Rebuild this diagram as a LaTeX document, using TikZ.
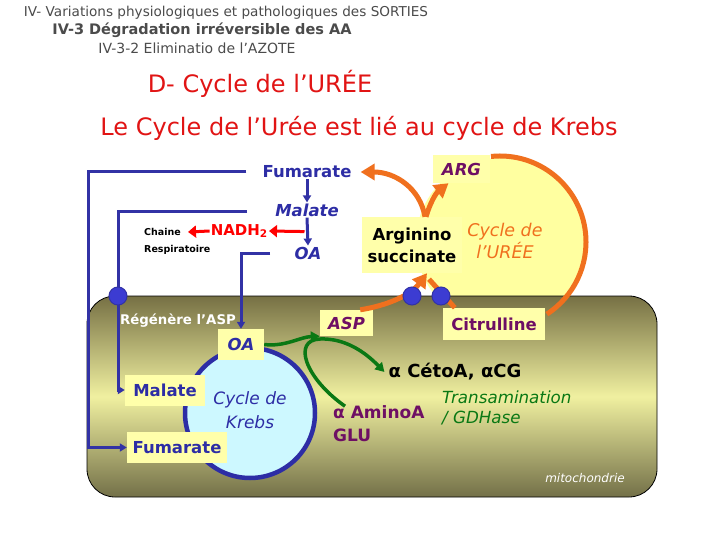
\documentclass[tikz,border=0pt]{standalone}
\usepackage{fontspec}
\setmainfont{DejaVu Sans}
\usetikzlibrary{arrows.meta,calc}
\definecolor{ttlgray}{RGB}{75,75,75}
\definecolor{ttlred}{RGB}{225,20,20}
\definecolor{kblue}{RGB}{45,45,165}
\definecolor{lblue}{RGB}{50,50,165}
\definecolor{purp}{RGB}{110,15,100}
\definecolor{orng}{RGB}{240,112,30}
\definecolor{grn}{RGB}{10,120,20}
\definecolor{boxy}{RGB}{255,255,170}
\definecolor{circy}{RGB}{255,255,160}
\definecolor{cyanf}{RGB}{205,248,255}
\definecolor{mitoT}{RGB}{118,112,68}
\definecolor{mitoM}{RGB}{240,240,160}
\definecolor{mitoB}{RGB}{115,112,72}
\definecolor{trfill}{RGB}{60,60,210}
\begin{document}
\begin{tikzpicture}[x=1pt,y=-1pt,
  every node/.style={inner sep=1pt},
  ybox/.style={fill=boxy, inner sep=0pt},
  bline/.style={draw=lblue, line width=3pt},
  btip/.style={-{Triangle[length=7pt,width=8pt]}},
  oline/.style={draw=orng, line width=5pt},
  otip/.style={-{Triangle[length=14pt,width=16pt]}},
  gline/.style={draw=grn, line width=3.5pt, -{Triangle[length=9pt,width=10pt]}},
  rline/.style={draw=red, line width=3pt, -{Triangle[length=8pt,width=12pt]}},
  transp/.style={circle, fill=trfill, draw=lblue, line width=1pt, minimum size=18pt, inner sep=0pt},
  fbig/.style={font=\bfseries\fontsize{16.5}{20}\selectfont},
  fbigi/.style={font=\bfseries\itshape\fontsize{16.5}{20}\selectfont}]
\useasboundingbox (0,0) rectangle (720,540);
\fill[white] (0,0) rectangle (720,540);

% titles
\node[font=\fontsize{13.6}{15}\selectfont, text=ttlgray] (t1) at (226,13) {IV- Variations physiologiques et pathologiques des SORTIES};
\node[font=\bfseries\fontsize{14.5}{17}\selectfont, text=ttlgray] (t2) at (202,30) {IV-3 Dégradation irréversible des AA};
\node[font=\fontsize{14}{16}\selectfont, text=ttlgray] (t3) at (197,48) {IV-3-2 Eliminatio de l'AZOTE};
\node[font=\fontsize{24}{28}\selectfont, text=ttlred] (t4) at (260,84) {D- Cycle de l'URÉE};
\node[font=\fontsize{24}{28}\selectfont, text=ttlred] (t5) at (359,128) {Le Cycle de l'Urée est lié au cycle de Krebs};

% urea cycle disc
\node[circle, fill=circy, minimum size=168pt, inner sep=0pt] (uc) at (500,242) {};
\node[ybox, minimum width=57pt, minimum height=28pt, text=purp, fbigi] (arg) at (461.5,169) {ARG};
\node[ybox, minimum width=100pt, minimum height=56pt, align=center,
      font=\bfseries\fontsize{16.5}{22}\selectfont] (as) at (412,245) {Arginino\\succinate};
\node[text=orng, align=center, font=\itshape\fontsize{17.5}{22}\selectfont] (ucl) at (505,241) {Cycle de\\l'URÉE};

% mitochondrion
\shadedraw[top color=mitoT, bottom color=mitoB, middle color=mitoM, draw=black, line width=0.8pt,
  rounded corners=28pt] (87,296) rectangle (657,497);

% big orange arc of urea cycle
\draw[oline] (uc.center) ++(-96:86) arc[start angle=-96, end angle=57, radius=86];

% top Krebs intermediates
\node[fbig, text=kblue] (fumT) at (307,172) {Fumarate};
\node[fbigi, text=kblue] (malT) at (307,210) {Malate};
\node[fbigi, text=kblue] (oaT) at (308,253) {OA};
\draw[bline, btip] (fumT.south) -- (malT.north);
\draw[bline, btip] (malT.south) -- (oaT.north);
\coordinate (rm) at ($(malT.south)!0.5!(oaT.north)+(-3,0)$);
\node[text=red, font=\bfseries\fontsize{15}{18}\selectfont, anchor=east] (nadh) at (269,231) {NADH\textsubscript{2}};
\node[anchor=west, font=\bfseries\fontsize{9.5}{11}\selectfont] (chaine) at (143,232) {Chaine};
\node[anchor=west, font=\bfseries\fontsize{9.5}{11}\selectfont] (resp) at (143,250) {Respiratoire};
\draw[rline] (rm) -- (nadh.east);
\draw[rline] (nadh.west) -- ([xshift=6pt]chaine.east);

% orange arrows from argininosuccinate
\draw[oline, otip] ([xshift=13pt]as.north) .. controls (420,188) and (395,172) .. ([xshift=8pt]fumT.east);
\draw[oline, otip] ([xshift=14pt]as.north) .. controls (430,203) and (436,193) .. ([xshift=-13pt]arg.south);

% boxes inside mitochondrion
\node[ybox, minimum width=53pt, minimum height=26pt, text=purp, fbigi] (asp) at (346.5,323) {ASP};
\node[ybox, minimum width=102pt, minimum height=32pt, text=purp, fbig] (cit) at (494,324) {Citrulline};

% orange arrows towards argininosuccinate
\draw[oline] ([xshift=12pt]cit.north west) -- ([xshift=17pt,yshift=-6pt]as.south);
\draw[oline, otip] ([xshift=-13pt]asp.north east) .. controls (385,306) and (410,296) .. ([xshift=15pt]as.south);
\node[transp] (tr2) at (412,296) {};
\node[transp] (tr3) at (441,296) {};

% Krebs cycle
\node[circle, fill=cyanf, draw=kblue, line width=4.5pt, minimum size=130pt, inner sep=0pt] (kc) at (250,413) {};
\node[text=kblue, align=center, font=\itshape\fontsize{17}{24}\selectfont] (kcl) at (250,410) {Cycle de\\Krebs};
\node[ybox, minimum width=46pt, minimum height=31pt, text=kblue, fbigi] (oaB) at (241,344.5) {OA};
\node[ybox, minimum width=80pt, minimum height=31pt, text=kblue, fbig] (malB) at (165,390) {Malate};
\node[ybox, minimum width=100pt, minimum height=31pt, text=kblue, fbig] (fumB) at (177,447.5) {Fumarate};

% blue connectors
\coordinate (xA) at (88,0);
\coordinate (xB) at (118,0);
\coordinate (l1s) at ([xshift=-15pt]fumT.west);
\coordinate (l2s) at (247,212);
\coordinate (l3s) at (270,253);
\draw[bline, btip] (l1s) -- (l1s -| xA) |- (fumB.west);
\draw[bline, btip] (l2s) -- (l2s -| xB) |- (malB.west);
\draw[bline, btip] (l3s) -| (oaB.north);
\node[transp] (tr1) at (118,296) {};
\node[text=white, font=\bfseries\fontsize{13.3}{16}\selectfont] (regen) at (178,321) {Régénère l'ASP};

% transamination
\node[font=\bfseries\fontsize{18}{20}\selectfont] (ceto) at (455,372) {α CétoA, αCG};
\node[anchor=west, text=grn, font=\itshape\fontsize{16.7}{18}\selectfont] (trn) at (441,397) {Transamination};
\node[anchor=west, text=grn, font=\itshape\fontsize{16.7}{18}\selectfont] (gdh) at (441,418) {/ GDHase};
\node[anchor=west, text=purp, font=\bfseries\fontsize{17}{20}\selectfont] (amino) at (332,412) {α AminoA};
\node[anchor=west, text=purp, font=\bfseries\fontsize{17}{20}\selectfont] (glu) at (332,435) {GLU};
\draw[gline] (oaB.east) .. controls (285,347) and (300,337) .. (asp.south west);
\draw[gline] ([xshift=13pt,yshift=-2pt]amino.north west) .. controls (305,378) and (292,340) .. (320,339)
   .. controls (345,338) and (365,352) .. ([xshift=-3pt]ceto.west);

\node[text=white, font=\itshape\fontsize{12}{14}\selectfont] (mito) at (585,478) {mitochondrie};
\end{tikzpicture}
\end{document}
